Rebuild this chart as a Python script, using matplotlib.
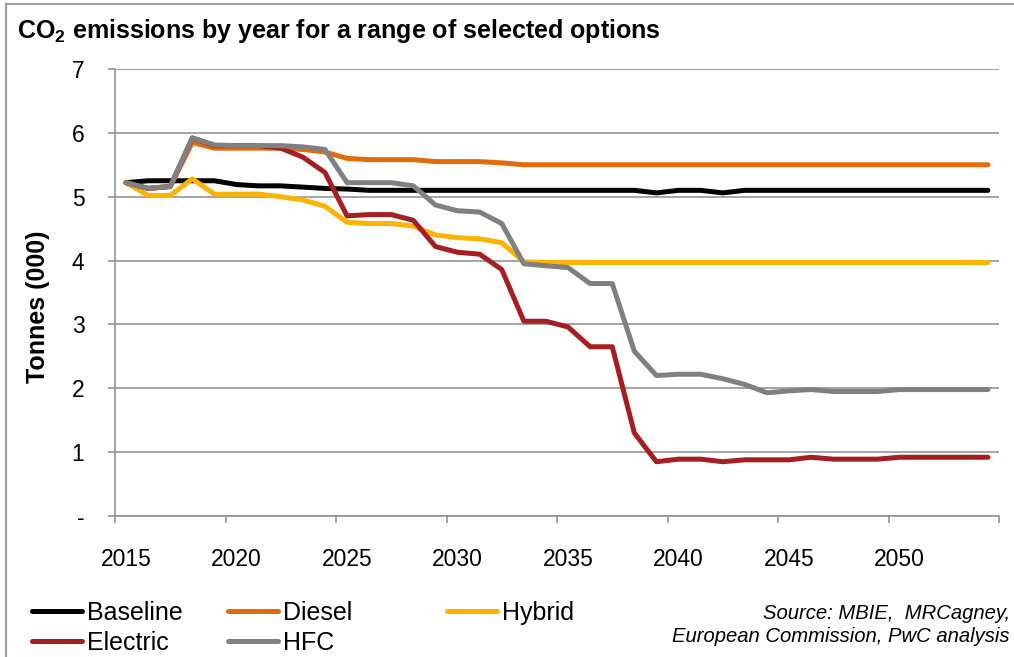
import matplotlib
matplotlib.use('Agg')
import matplotlib.pyplot as plt
from matplotlib.lines import Line2D
import numpy as np

# Data (tonnes, thousands)
years = list(range(2015, 2055))

baseline = [5.22, 5.25, 5.25, 5.25, 5.25, 5.19, 5.17, 5.17, 5.15, 5.13,
            5.12, 5.10, 5.10, 5.10, 5.10, 5.10, 5.10, 5.10, 5.10, 5.10,
            5.10, 5.10, 5.10, 5.10, 5.06, 5.10, 5.10, 5.06, 5.10, 5.10,
            5.10, 5.10, 5.10, 5.10, 5.10, 5.10, 5.10, 5.10, 5.10, 5.10]
diesel = [5.22, 5.13, 5.16, 5.85, 5.76, 5.76, 5.76, 5.76, 5.74, 5.70,
          5.60, 5.58, 5.58, 5.58, 5.55, 5.55, 5.55, 5.53, 5.50, 5.50,
          5.50, 5.50, 5.50, 5.50, 5.50, 5.50, 5.50, 5.50, 5.50, 5.50,
          5.50, 5.50, 5.50, 5.50, 5.50, 5.50, 5.50, 5.50, 5.50, 5.50]
hybrid = [5.22, 5.02, 5.02, 5.28, 5.04, 5.04, 5.04, 5.00, 4.95, 4.85,
          4.60, 4.58, 4.58, 4.54, 4.40, 4.36, 4.34, 4.28, 3.98, 3.97,
          3.97, 3.97, 3.97, 3.97, 3.97, 3.97, 3.97, 3.97, 3.97, 3.97,
          3.97, 3.97, 3.97, 3.97, 3.97, 3.97, 3.97, 3.97, 3.97, 3.97]
electric = [5.22, 5.13, 5.16, 5.92, 5.80, 5.80, 5.80, 5.76, 5.62, 5.38,
            4.70, 4.72, 4.72, 4.63, 4.22, 4.13, 4.10, 3.86, 3.05, 3.05,
            2.96, 2.65, 2.65, 1.30, 0.85, 0.89, 0.89, 0.85, 0.88, 0.88,
            0.88, 0.92, 0.89, 0.89, 0.89, 0.92, 0.92, 0.92, 0.92, 0.92]
hfc = [5.22, 5.13, 5.16, 5.92, 5.81, 5.80, 5.80, 5.80, 5.78, 5.74,
       5.22, 5.22, 5.22, 5.17, 4.87, 4.78, 4.76, 4.58, 3.95, 3.92,
       3.89, 3.64, 3.64, 2.58, 2.20, 2.22, 2.22, 2.15, 2.06, 1.93,
       1.96, 1.98, 1.95, 1.95, 1.95, 1.98, 1.98, 1.98, 1.98, 1.98]

series_names = ['Baseline', 'Diesel', 'Hybrid', 'Electric', 'HFC']
series_values = [baseline, diesel, hybrid, electric, hfc]
series_colors = ['#000000', '#E36C0A', '#FFB300', '#A51E22', '#808080']

y_ticks = [0, 1, 2, 3, 4, 5, 6, 7]
y_tick_labels = ['-', '1', '2', '3', '4', '5', '6', '7']
label_years = [2015, 2020, 2025, 2030, 2035, 2040, 2045, 2050]

plt.rcParams['font.family'] = ['Liberation Sans', 'DejaVu Sans']
plt.rcParams['mathtext.fontset'] = 'custom'
plt.rcParams['mathtext.rm'] = 'Liberation Sans'
plt.rcParams['mathtext.bf'] = 'Liberation Sans:bold'

W, H = 1014, 657
fig = plt.figure(figsize=(W / 100, H / 100), dpi=100)

def fx(px):
    return px / W

def fy(py):
    return 1 - py / H

grid_col = '#8C8C8C'
ax = fig.add_axes([fx(115), fy(516), fx(999) - fx(115), fy(69) - fy(516)])

x = np.arange(len(years))
lines = []
for name, vals, col in zip(series_names, series_values, series_colors):
    ln, = ax.plot(x, vals, color=col, lw=3.6, solid_joinstyle='round',
                  solid_capstyle='round', label=name)
    lines.append(ln)

ax.set_xlim(-0.5, len(years) - 0.5)
ax.set_ylim(0, 7)

# y axis
ax.set_yticks(y_ticks)
ax.set_yticklabels(y_tick_labels)
ax.tick_params(axis='y', length=5, width=1.1, color=grid_col, pad=17,
               labelsize=16.5)
ax.yaxis.grid(True, color=grid_col, lw=1.1)

# x axis: tick marks between categories, labels on categories
ax.set_xticks(np.arange(-0.5, len(years), 5))
ax.set_xticklabels([])
ax.set_xticks([years.index(y) for y in label_years], minor=True)
ax.set_xticklabels([str(y) for y in label_years], minor=True)
ax.tick_params(axis='x', which='major', length=5, width=1.1, color=grid_col)
ax.tick_params(axis='x', which='minor', length=0, pad=23, labelsize=16.5)

for s in ['top', 'right']:
    ax.spines[s].set_visible(False)
for s in ['left', 'bottom']:
    ax.spines[s].set_color(grid_col)
    ax.spines[s].set_linewidth(1.1)
ax.set_axisbelow(True)

# outer frame (left and top edges visible)
fig.add_artist(Line2D([fx(6), fx(6)], [0, fy(4)], color='#A0A0A0', lw=1.6))
fig.add_artist(Line2D([fx(6), 1], [fy(4), fy(4)], color='#A0A0A0', lw=1.6))

fig.text(fx(17), fy(31), r'CO$_\mathbf{2}$ emissions by year for a range of selected options',
         fontsize=18, fontweight='bold', va='center', ha='left')
fig.text(fx(38), fy(307), 'Tonnes (000)', fontsize=18, fontweight='bold',
         rotation=90, va='center', ha='center')

# legend laid out in three columns like the original
leg_cols = [(32, [0, 3]), (228, [1, 4]), (447, [2])]
for xpx, idx in leg_cols:
    leg = fig.legend([lines[i] for i in idx], [series_names[i] for i in idx],
                     loc='upper left', bbox_to_anchor=(fx(xpx), fy(601)),
                     frameon=False, fontsize=18, handlelength=2.0,
                     handletextpad=0.2, labelspacing=0.22, borderpad=0,
                     borderaxespad=0)

fig.text(fx(1010), fy(625), 'Source: MBIE,  MRCagney,\nEuropean Commission, PwC analysis',
         fontsize=14.6, style='italic', ha='right', va='center', linespacing=1.25)

fig.savefig('out.png', dpi=100)
